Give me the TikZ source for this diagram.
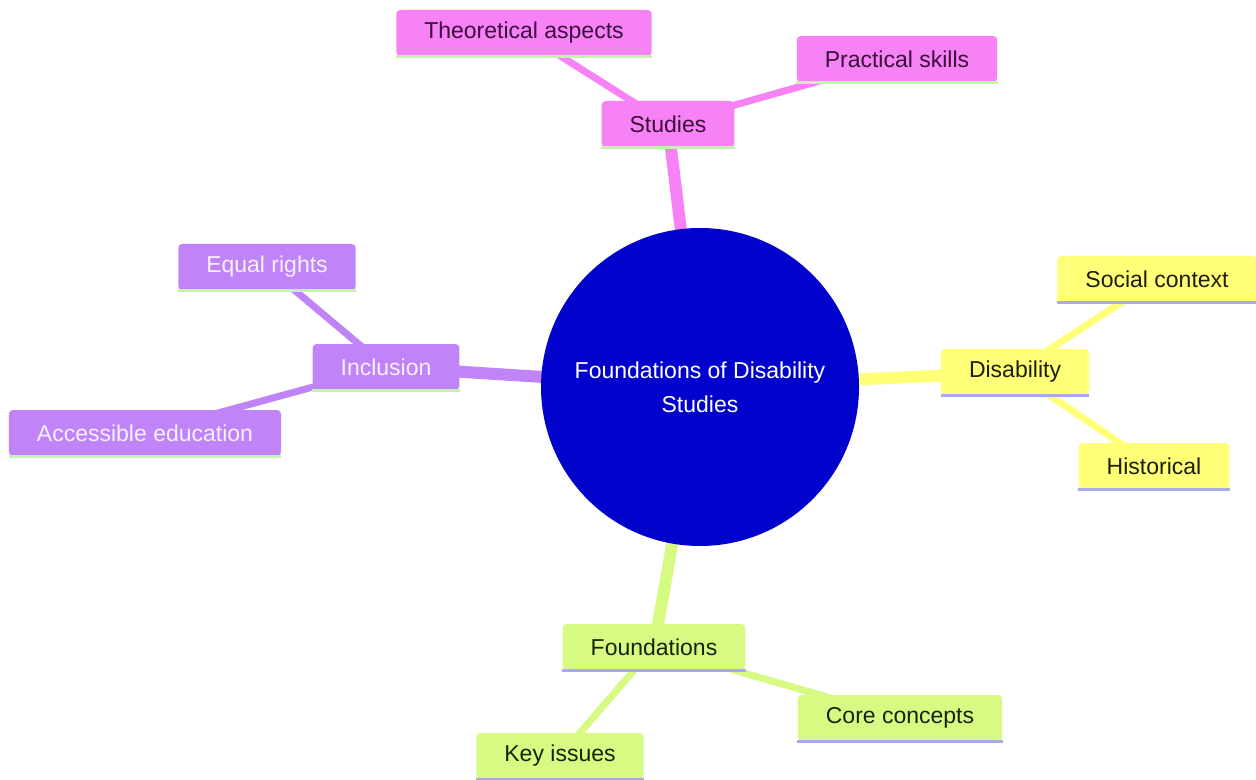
\documentclass[tikz,border=0pt]{standalone}
\usepackage{fontspec}
\setmainfont{Liberation Sans}
\usetikzlibrary{backgrounds}

\definecolor{hubblue}{RGB}{2,2,205}
\definecolor{mmpink}{RGB}{246,130,246}
\definecolor{mmpinktext}{RGB}{60,14,60}
\definecolor{mmpurple}{RGB}{192,132,248}
\definecolor{mmpurpletext}{RGB}{246,240,255}
\definecolor{mmyellow}{RGB}{255,255,120}
\definecolor{mmyellowtext}{RGB}{30,30,10}
\definecolor{mmlime}{RGB}{215,250,130}
\definecolor{mmlimetext}{RGB}{25,35,10}
\definecolor{ulgreen}{RGB}{200,240,180}
\definecolor{ulblue}{RGB}{170,170,230}

\begin{document}
\begin{tikzpicture}[x=0.5pt,y=-0.5pt,
      myhub/.style={
         circle,
         fill=hubblue,
         text=white,
         inner sep=0pt,
         minimum size=159pt,
         align=center,
         font=\fontsize{11.5}{17}\selectfont},
      mybox/.style={
         rectangle,
         rounded corners=2pt,
         minimum height=23pt,
         inner xsep=14pt,
         font=\fontsize{11.5}{14}\selectfont},
      pinkbox/.style={mybox,fill=mmpink,text=mmpinktext},
      purplebox/.style={mybox,fill=mmpurple,text=mmpurpletext},
      yellowbox/.style={mybox,fill=mmyellow,text=mmyellowtext},
      limebox/.style={mybox,fill=mmlime,text=mmlimetext},
      mylink/.style={line width=6pt},
      mysublink/.style={line width=3.5pt},
      myunderline/.style={line width=1.5pt}
      ]
      \useasboundingbox (0,0) rectangle (1256,780);

      \node[myhub] (hub) at (700,387) {Foundations of Disability\\Studies};

      \node[pinkbox] (studies) at (668,124) {Studies};
      \node[pinkbox] (theo) at (524,33) {Theoretical aspects};
      \node[pinkbox] (practical) at (897,59) {Practical skills};

      \node[purplebox] (inclusion) at (386,367) {Inclusion};
      \node[purplebox] (rights) at (267,267) {Equal rights};
      \node[purplebox] (access) at (145,433) {Accessible education};

      \node[yellowbox] (disability) at (1015,372) {Disability};
      \node[yellowbox] (social) at (1157,279) {Social context};
      \node[yellowbox] (historical) at (1154,466) {Historical};

      \node[limebox] (found) at (654,647) {Foundations};
      \node[limebox] (core) at (900,718) {Core concepts};
      \node[limebox] (key) at (560,756) {Key issues};

    \begin{scope}[on background layer]
    \foreach \i/\j/\c in {% start node/end node/colour
      hub/studies/mmpink,
      hub/inclusion/mmpurple,
      hub/disability/mmyellow,
      hub/found/mmlime}
       \draw[mylink,draw=\c] (\i.center) -- (\j.center);
    \foreach \i/\j/\c in {
      studies/theo/mmpink,
      studies/practical/mmpink,
      inclusion/rights/mmpurple,
      inclusion/access/mmpurple,
      disability/social/mmyellow,
      disability/historical/mmyellow,
      found/core/mmlime,
      found/key/mmlime}
       \draw[mysublink,draw=\c] (\i.center) -- (\j.center);
    \end{scope}

    % bottom borders of the boxes
    \foreach \n in {studies,theo,practical,inclusion,rights,access}
       \draw[myunderline,ulgreen] (\n.south west) -- (\n.south east);
    \foreach \n in {disability,social,historical,found,core,key}
       \draw[myunderline,ulblue] (\n.south west) -- (\n.south east);
\end{tikzpicture}
\end{document}
